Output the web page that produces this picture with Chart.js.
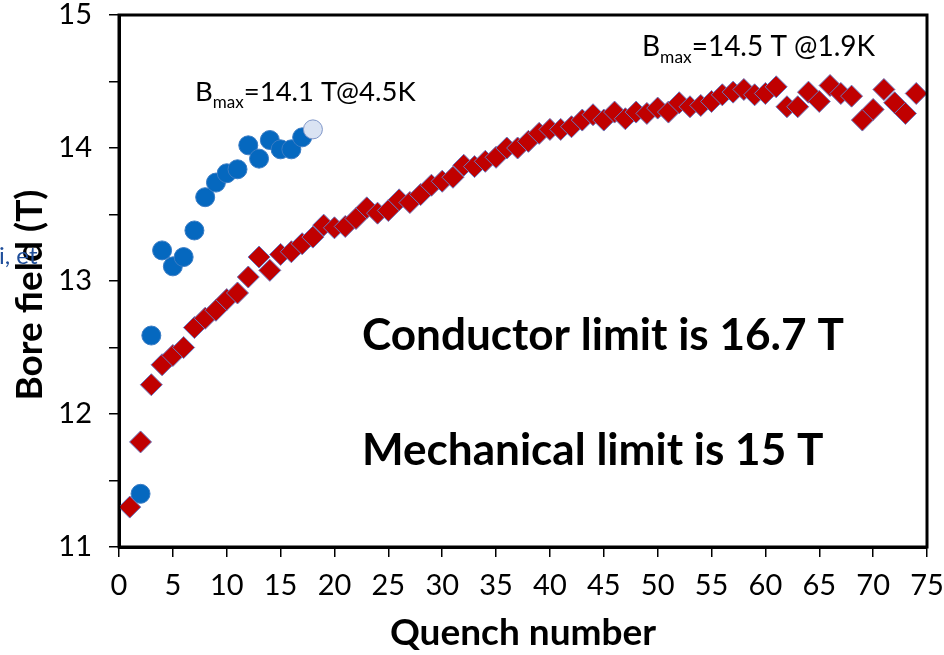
<!DOCTYPE html>
<html>
  <head>
    <title>Bore field vs quench number</title>
    <script src="https://cdn.jsdelivr.net/npm/chart.js"></script>
    <style>
      body {
        margin: 0;
        background: #fff;
      }
      .chart-container {
        position: relative;
        width: 944px;
        height: 655px;
      }
    </style>
  </head>

  <body>
    <div class="chart-container">
      <canvas id="quench-chart"></canvas>
    </div>

    <script>
      // training at 1.9 K (red diamonds)
      const quench19K = [
        1, 2, 3, 4, 5, 6, 7, 8, 9, 10, 11, 12, 13, 14, 15, 16, 17, 18, 19, 20,
        21, 22, 23, 24, 25, 26, 27, 28, 29, 30, 31, 32, 33, 34, 35, 36, 37, 38, 39, 40,
        41, 42, 43, 44, 45, 46, 47, 48, 49, 50, 51, 52, 53, 54, 55, 56, 57, 58, 59, 60,
        61, 62, 63, 64, 65, 66, 67, 68, 69, 70, 71, 72, 73, 74
      ];
      const field19K = [
        11.30, 11.79, 12.22, 12.37, 12.44, 12.50, 12.65, 12.72, 12.78, 12.86,
        12.91, 13.03, 13.18, 13.08, 13.20, 13.22, 13.28, 13.33, 13.42, 13.40,
        13.41, 13.47, 13.55, 13.51, 13.53, 13.61, 13.59, 13.65, 13.72, 13.75,
        13.78, 13.87, 13.86, 13.90, 13.93, 14.00, 14.00, 14.05, 14.11, 14.14,
        14.14, 14.16, 14.21, 14.25, 14.21, 14.27, 14.22, 14.27, 14.26, 14.30,
        14.27, 14.34, 14.31, 14.32, 14.35, 14.40, 14.42, 14.44, 14.40, 14.41,
        14.46, 14.31, 14.31, 14.42, 14.35, 14.47, 14.41, 14.39, 14.21, 14.29,
        14.44, 14.34, 14.26, 14.41
      ];

      // training at 4.5 K (blue circles), last one is the pale point
      const quench45K = [2, 3, 4, 5, 6, 7, 8, 9, 10, 11, 12, 13, 14, 15, 16, 17, 18];
      const field45K = [
        11.40, 12.59, 13.23, 13.11, 13.18, 13.38, 13.63, 13.74, 13.81, 13.84,
        14.02, 13.92, 14.06, 13.99, 13.99, 14.08, 14.14
      ];

      const xTitle = 'Quench number';
      const yTitle = 'Bore field (T)';
      const noteLimits = ['Conductor limit is 16.7 T', 'Mechanical limit is 15 T'];
      const noteBmax45 = '=14.1 T@4.5K';
      const noteBmax19 = '=14.5 T @1.9K';

      const toPoints = (xs, ys) => xs.map((q, i) => ({ x: q, y: ys[i] }));

      function fitSize(ctx, text, weight, width) {
        ctx.font = weight + ' 100px Lato';
        return 100 * width / ctx.measureText(text).width;
      }

      // B with a "max" subscript, then the rest of the label
      function drawBmax(ctx, left, baseline, rest, size) {
        ctx.font = size + 'px Lato';
        ctx.fillText('B', left, baseline);
        let x = left + ctx.measureText('B').width;
        ctx.font = (size * 0.62) + 'px Lato';
        ctx.fillText('max', x, baseline + size * 0.24);
        x += ctx.measureText('max').width;
        ctx.font = size + 'px Lato';
        ctx.fillText(rest, x, baseline);
      }

      const extras = {
        id: 'extras',
        afterDatasetsDraw(chart) {
          const { ctx, chartArea: a } = chart;
          ctx.save();
          ctx.strokeStyle = '#000';
          ctx.lineWidth = 3;
          ctx.strokeRect(a.left, a.top, a.right - a.left, a.bottom - a.top);

          ctx.fillStyle = '#000';
          ctx.textBaseline = 'alphabetic';
          ctx.textAlign = 'left';
          drawBmax(ctx, 195, 101, noteBmax45, 27.5);
          drawBmax(ctx, 642, 56, noteBmax19, 28);

          const s = fitSize(ctx, noteLimits[0], 'bold', 482);
          ctx.font = 'bold ' + s + 'px Lato';
          ctx.fillText(noteLimits[0], 362, 350);
          ctx.fillText(noteLimits[1], 362, 465);

          // y axis title, a little below the middle of the axis as in the source
          ctx.save();
          ctx.translate(30, 295);
          ctx.rotate(-Math.PI / 2);
          ctx.textAlign = 'center';
          ctx.textBaseline = 'middle';
          ctx.font = 'bold 37px Lato';
          ctx.fillText(yTitle, 0, 0);
          ctx.restore();

          // stray fragment of a citation that sits over the axis title
          ctx.fillStyle = '#1F4E9A';
          ctx.font = '24px Lato';
          ctx.fillText('i, et', -1, 264);
          ctx.restore();
        }
      };

      const tickFont = { family: 'Lato', size: 29, lineHeight: 1 };
      const titleFont = { family: 'Lato', size: 37, weight: 'bold' };

      new Chart(document.getElementById('quench-chart'), {
        type: 'scatter',
        data: {
          datasets: [
            {
              label: '1.9 K',
              data: toPoints(quench19K, field19K),
              pointStyle: 'rectRot',
              pointRadius: 11,
              backgroundColor: '#C00000',
              borderColor: '#6878C0',
              borderWidth: 1
            },
            {
              label: '4.5 K',
              data: toPoints(quench45K, field45K),
              pointStyle: 'circle',
              pointRadius: 9.5,
              backgroundColor: c => c.dataIndex === quench45K.length - 1 ? '#DAE3F3' : '#0568BF',
              borderColor: c => c.dataIndex === quench45K.length - 1 ? '#7F96C8' : '#3A7CC4',
              borderWidth: 1
            }
          ]
        },
        options: {
          responsive: true,
          maintainAspectRatio: false,
          animation: false,
          layout: {
            padding: { left: 0, right: 17, top: 15, bottom: 0 }
          },
          plugins: {
            legend: { display: false },
            tooltip: { enabled: false }
          },
          scales: {
            x: {
              type: 'linear',
              min: 0,
              max: 75,
              ticks: {
                stepSize: 5,
                autoSkip: false,
                maxRotation: 0,
                padding: 14,
                color: '#000',
                font: tickFont
              },
              grid: { drawOnChartArea: false, tickLength: 10, color: '#000', lineWidth: 1.5 },
              border: { color: '#000', width: 3 },
              title: {
                display: true,
                text: xTitle,
                color: '#000',
                font: titleFont,
                padding: { top: 0, bottom: 0 }
              },
              afterFit(scale) {
                scale.height = 108;
                scale.paddingLeft = 0;
                scale.paddingRight = 0;
              }
            },
            y: {
              min: 11,
              max: 15,
              ticks: {
                stepSize: 0.5,
                autoSkip: false,
                padding: 17,
                color: '#000',
                font: tickFont,
                callback: v => (Number.isInteger(v) ? v : '')
              },
              grid: { drawOnChartArea: false, tickLength: 10, color: '#000', lineWidth: 1.5 },
              border: { color: '#000', width: 3 },
              afterFit(scale) {
                scale.width = 119;
                scale.paddingTop = 0;
                scale.paddingBottom = 0;
              }
            }
          }
        },
        plugins: [extras]
      });
    </script>
  </body>
</html>
